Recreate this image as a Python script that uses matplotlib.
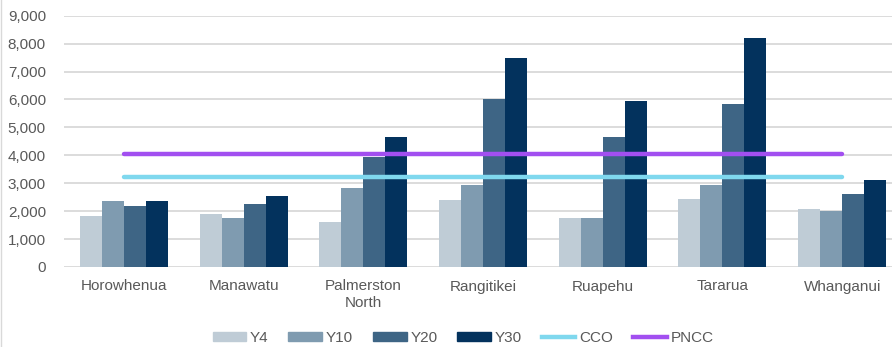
import numpy as np
import matplotlib
matplotlib.use('Agg')
import matplotlib.pyplot as plt
from matplotlib.lines import Line2D

plt.rcParams['font.family'] = ['Liberation Sans', 'DejaVu Sans']

districts = ['Horowhenua', 'Manawatu', 'Palmerston\nNorth', 'Rangitikei',
             'Ruapehu', 'Tararua', 'Whanganui']
y4 = [1840, 1900, 1620, 2400, 1770, 2430, 2070]
y10 = [2350, 1750, 2840, 2950, 1740, 2940, 2020]
y20 = [2180, 2250, 3950, 6010, 4660, 5850, 2600]
y30 = [2370, 2530, 4640, 7480, 5950, 8200, 3100]
cco = [3210] * len(districts)
pncc = [4030] * len(districts)

series = [('Y4', y4, '#BFCCD6'), ('Y10', y10, '#7F9BB0'),
          ('Y20', y20, '#3E6585'), ('Y30', y30, '#03325D')]

W, H = 892, 347
fig = plt.figure(figsize=(W / 100, H / 100), dpi=100)
ax = fig.add_axes([64 / W, 80 / H, (902 - 64) / W, (267 - 15.7) / H])

x = np.arange(len(districts))
bw = 0.184
for k, (name, vals, col) in enumerate(series):
    ax.bar(x + (k - 1.5) * bw, vals, bw, color=col, label=name, zorder=2)

ax.plot(x, cco, color='#7FD8EE', lw=3.2, solid_capstyle='round', zorder=3)
ax.plot(x, pncc, color='#A24FF0', lw=3.2, solid_capstyle='round', zorder=3)

ax.set_xlim(-0.5, len(districts) - 0.5)
ax.set_ylim(0, 9000)
ax.set_yticks(np.arange(0, 9001, 1000))
ax.set_yticklabels([f'{v:,}' for v in range(0, 9001, 1000)])
ax.set_xticks(x)
ax.set_xticklabels(districts)
ax.grid(axis='y', color='#D9D9D9', lw=1.3, zorder=0)
ax.set_axisbelow(True)
for s in ax.spines.values():
    s.set_visible(False)
ax.tick_params(axis='both', length=0, labelsize=11, colors='#595959')
ax.tick_params(axis='y', pad=13)
ax.tick_params(axis='x', pad=9)

handles = [plt.Rectangle((0, 0), 1, 1, color=c) for _, _, c in series]
handles += [Line2D([], [], color='#7FD8EE', lw=3.2),
            Line2D([], [], color='#A24FF0', lw=3.2)]
labels = ['Y4', 'Y10', 'Y20', 'Y30', 'CCO', 'PNCC']
leg = fig.legend(handles, labels, loc='center', bbox_to_anchor=(463 / W, 9 / H),
                 ncol=6, frameon=False, fontsize=11, handlelength=2.2,
                 handleheight=0.45, handletextpad=0.25, columnspacing=1.3)
for t in leg.get_texts():
    t.set_color('#595959')

fig.add_artist(Line2D([0.5 / W, 0.5 / W], [0, 1], color='#D9D9D9', lw=1,
                      transform=fig.transFigure))

fig.savefig('out.png', dpi=100)
